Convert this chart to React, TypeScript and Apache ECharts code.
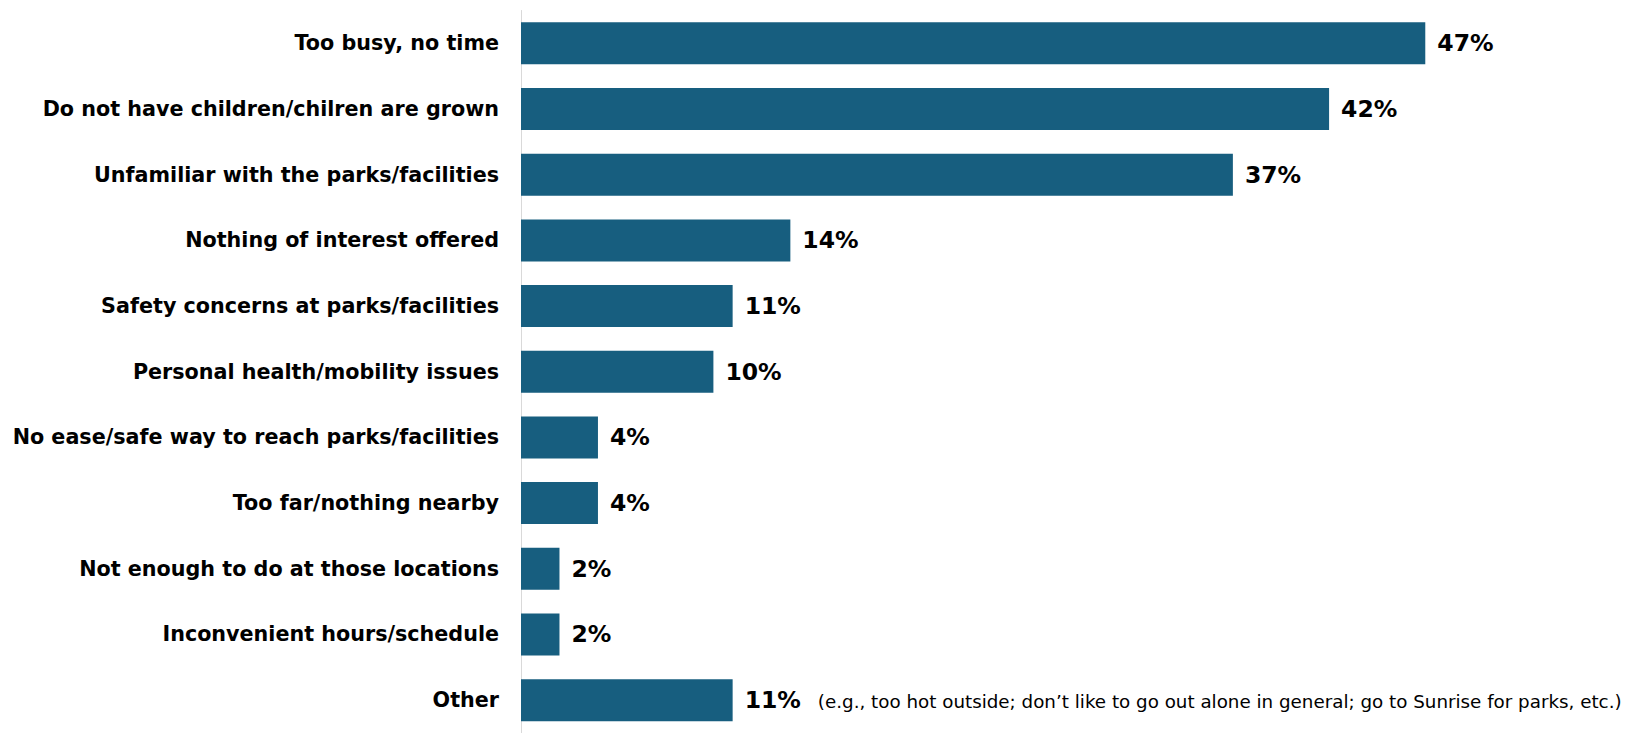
import React, { useEffect, useRef } from "react";
import * as echarts from "echarts";

const categories = [
  "Too busy, no time",
  "Do not have children/chilren are grown",
  "Unfamiliar with the parks/facilities",
  "Nothing of interest offered",
  "Safety concerns at parks/facilities",
  "Personal health/mobility issues",
  "No ease/safe way to reach parks/facilities",
  "Too far/nothing nearby",
  "Not enough to do at those locations",
  "Inconvenient hours/schedule",
  "Other",
];

const values = [47, 42, 37, 14, 11, 10, 4, 4, 2, 2, 11];

const otherNote =
  "(e.g., too hot outside; don\u2019t like to go out alone in general; go to Sunrise for parks, etc.)";

const BAR_COLOR = "#175E7F";
const FONT = "'DejaVu Sans', Verdana, sans-serif";

export default function App() {
  const ref = useRef<HTMLDivElement>(null);

  useEffect(() => {
    if (!ref.current) return;
    const chart = echarts.init(ref.current, undefined, { renderer: "svg" });
    const lastIdx = values.length - 1;
    chart.setOption({
      animation: false,
      backgroundColor: "#ffffff",
      grid: {
        left: 521,
        top: 10.5,
        width: 1058.2,
        height: 726.5,
        containLabel: false,
      },
      xAxis: {
        type: "value",
        min: 0,
        max: 55,
        show: false,
      },
      yAxis: {
        type: "category",
        data: categories,
        inverse: true,
        axisTick: { show: false },
        axisLine: { show: true, lineStyle: { color: "#d9d9d9", width: 1 } },
        axisLabel: {
          margin: 22,
          fontSize: 20.7,
          fontWeight: "bold",
          fontFamily: FONT,
          color: "#000000",
        },
        splitLine: { show: false },
      },
      series: [
        {
          type: "bar",
          data: values,
          barWidth: 42,
          itemStyle: { color: BAR_COLOR },
          label: {
            show: true,
            position: "right",
            distance: 12,
            fontSize: 23.5,
            fontWeight: "bold",
            fontFamily: FONT,
            color: "#000000",
            formatter: (p: any) =>
              p.dataIndex === lastIdx
                ? `{v|${p.value}%}{n|${otherNote}}`
                : `${p.value}%`,
            rich: {
              v: {
                fontSize: 23.5,
                fontWeight: "bold",
                fontFamily: FONT,
                color: "#000000",
              },
              n: {
                fontSize: 18.3,
                fontWeight: "normal",
                fontFamily: FONT,
                color: "#000000",
                padding: [2, 0, 0, 17],
              },
            },
          },
        },
      ],
    });
    return () => chart.dispose();
  }, []);

  return (
    <div
      ref={ref}
      style={{ position: "absolute", left: 0, top: 0, width: 1649, height: 733 }}
    />
  );
}
